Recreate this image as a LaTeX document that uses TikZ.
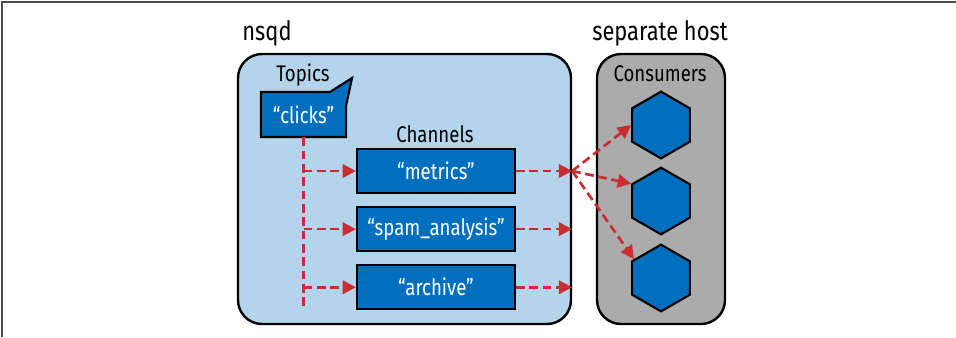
\documentclass[tikz,border=0pt]{standalone}
\usepackage{fontspec}
\setmainfont{Fira Sans}[FakeStretch=0.82]
\usetikzlibrary{arrows.meta, positioning, shapes.geometric}

\definecolor{nsqdblue}{HTML}{B3D4EA}
\definecolor{hostgray}{HTML}{ABABAB}
\definecolor{chanblue}{HTML}{0070BE}
\definecolor{flowred}{HTML}{CB2C32}

\begin{document}
\begin{tikzpicture}[
    x=0.75pt, y=-0.75pt,
    node distance=9pt,
    title/.style   ={font=\fontsize{20}{24}\selectfont, inner sep=0pt, anchor=base},
    heading/.style ={font=\fontsize{17}{20}\selectfont, inner sep=0pt, anchor=base},
    host/.style    ={draw, line width=1.8pt, rounded corners=18pt,
                     minimum height=202.5pt},
    chanbox/.style ={draw, line width=1.6pt, fill=chanblue, text=white,
                     minimum width=118.5pt, minimum height=33pt, inner sep=0pt,
                     font=\fontsize{17}{20}\selectfont},
    consumer/.style={draw, line width=1.6pt, fill=chanblue, regular polygon,
                     regular polygon sides=6, shape border rotate=90,
                     minimum size=50pt, inner sep=0pt},
    trunk/.style   ={draw=flowred, line width=2pt, dash pattern=on 6.5pt off 3.5pt},
    flow/.style    ={trunk, -{Triangle[length=10pt, width=10pt, fill=flowred]}},
]
\useasboundingbox (0,0) rectangle (956,337);

% -- frame ---------------------------------------------------------------
\draw[gray!60!black, line width=1.1pt] (2,337) -- (2,2) -- (956,2);

% -- hosts ---------------------------------------------------------------
\node[host, fill=nsqdblue, minimum width=249.75pt] (nsqd) at (404.5,189) {};
\node[host, fill=hostgray, minimum width=96pt]     (sep)  at (661,189)   {};
\node[title]   (nsqdtitle) at (267,40)  {nsqd};
\node[title]   (septitle)  at (660,40)  {separate host};
\node[heading] (topics)    at (303,81)  {Topics};
\node[heading] (consumers) at (660,81)  {Consumers};

% -- topic callout -------------------------------------------------------
\filldraw[line width=1.6pt, fill=chanblue, line join=miter]
  (261,92) -- (330,92) -- (352,78) -- (346,106) -- (346,137) -- (261,137) -- cycle;
\node[minimum width=63.75pt, minimum height=33.75pt, inner sep=0pt, text=white,
      font=\fontsize{17}{20}\selectfont] (clicks) at (303.5,114.5) {“clicks”};

% -- channels ------------------------------------------------------------
\node[chanbox] (metrics) at (436,171) {“metrics”};
\node[chanbox, below=of metrics] (spam)    {“spam\_analysis”};
\node[chanbox, below=of spam]    (archive) {“archive”};
\node[heading] (channels) at (435,142) {Channels};

% -- consumers -----------------------------------------------------------
\node[consumer] (c1) at (661,125) {};
\node[consumer] (c2) at (661,201) {};
\node[consumer] (c3) at (661,278) {};

% -- flows ---------------------------------------------------------------
\draw[trunk] (clicks.south) -- (clicks.south |- archive.south);
\foreach \ch in {metrics, spam, archive} {
  \draw[flow] (clicks.south |- \ch.west) -- (\ch.west);
  \draw[flow] (\ch.east) -- (\ch.east -| nsqd.east);
}
\coordinate (hub) at (metrics.east -| nsqd.east);
\draw[flow] (hub) -- (c1.west);
\draw[flow] (hub) -- (c2.150);
\draw[flow] (hub) -- (c3.145);

\end{tikzpicture}
\end{document}
